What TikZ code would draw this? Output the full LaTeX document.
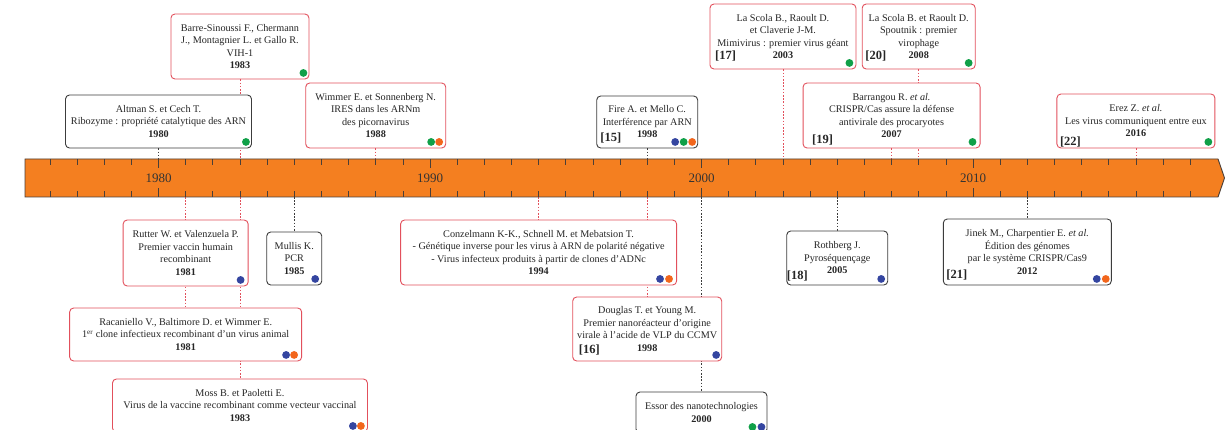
\documentclass[tikz,border=0pt]{standalone}
\usepackage{fontspec}
\setmainfont{Liberation Serif}
\usepackage{xcolor}
\usepackage{tikz}
\usetikzlibrary{positioning,backgrounds}
\definecolor{bandcol}{HTML}{F47F20}
\definecolor{bandline}{HTML}{4A3F38}
\definecolor{redc}{HTML}{E2505C}
\definecolor{blkc}{HTML}{3C3C3C}
\definecolor{dgreen}{HTML}{10A048}
\definecolor{dblue}{HTML}{3445A0}
\definecolor{dorange}{HTML}{F2661C}
\newcommand{\yrx}[1]{158.5+(#1-1980)*27.15}
\newcommand{\catdot}[3]{\fill[#1] ([shift={(#3,-6.5)}]#2.south east) circle (3.9);}

\begin{document}
\begin{tikzpicture}[x=1pt,y=-1pt,font=\fontsize{10.2}{12.5}\selectfont,
  evr/.style={draw=redc,fill=white,rounded corners=4pt,line width=0.9pt,
              inner sep=0pt,align=center,text=black!85},
  evk/.style={evr,draw=blkc},
  lnr/.style={redc,dash pattern=on 1.6pt off 1.6pt,line width=0.8pt},
  lnk/.style={lnr,blkc},
  refno/.style={font=\fontsize{12.5}{14}\selectfont\bfseries,inner sep=0pt,text=black!85},
]
\useasboundingbox (0,0) rectangle (1225,430);
\clip (0,0) rectangle (1225,430);

% time band
\coordinate (axtop) at (0,159);
\coordinate (axbot) at (0,197);
\draw[bandline,fill=bandcol,line width=0.9pt]
  (25,159) -- (1218,159) -- (1224.5,178) -- (1218,197) -- (25,197) -- cycle;
\foreach \yr in {1976,...,2018}{
  \pgfmathsetmacro{\tl}{mod(\yr,10)==0 ? 9 : 6}
  \draw[bandline,line width=0.7pt] ({\yrx{\yr}},159) -- ++(0,\tl);
  \draw[bandline,line width=0.7pt] ({\yrx{\yr}},197) -- ++(0,-\tl);
}
\foreach \yr in {1980,1990,2000,2010}
  \node[font=\fontsize{13}{14}\selectfont,text=black!80] (lab\yr) at ({\yrx{\yr}},178.5) {\yr};

% events above the band
\node[evr,minimum width=138,minimum height=65] (barre) at ({\yrx{1983}},46.5)
  {Barre-Sinoussi F., Chermann\\J., Montagnier L. et Gallo R.\\VIH-1\\\textbf{1983}};
\node[evk,minimum width=186,minimum height=53] (altman) at ({\yrx{1980}},121.5)
  {Altman S. et Cech T.\\Ribozyme : propriété catalytique des ARN\\\textbf{1980}};
\node[evr,minimum width=140,minimum height=65] (wimmer) at ({\yrx{1988}},115.5)
  {Wimmer E. et Sonnenberg N.\\IRES dans les ARNm\\des picornavirus\\\textbf{1988}};
\node[evk,minimum width=101,minimum height=52] (fire) at ({\yrx{1998}},122)
  {Fire A. et Mello C.\\Interférence par ARN\\\textbf{1998}};
\node[evr,minimum width=146,minimum height=65] (mimi) at ({\yrx{2003}},36.5)
  {La Scola B., Raoult D.\\et Claverie J-M.\\Mimivirus : premier virus géant\\\textbf{2003}};
\node[evr,minimum width=113,minimum height=65] (spout) at ({\yrx{2008}},36.5)
  {La Scola B. et Raoult D.\\Spoutnik : premier\\virophage\\\textbf{2008}};
\node[evr,minimum width=177,minimum height=65] (barrang) at ({\yrx{2007}},115.5)
  {Barrangou R. \textit{et al.}\\CRISPR/Cas assure la défense\\antivirale des procaryotes\\\textbf{2007}};
\node[evr,minimum width=158,minimum height=54] (erez) at ({\yrx{2016}},121)
  {Erez Z. \textit{et al.}\\Les virus communiquent entre eux\\\textbf{2016}};

% events below the band
\node[evr,minimum width=125,minimum height=66] (rutter) at ({\yrx{1981}},253)
  {Rutter W. et Valenzuela P.\\Premier vaccin humain\\recombinant\\\textbf{1981}};
\node[evr,minimum width=232,minimum height=53] (racan) at ({\yrx{1981}},334.5)
  {Racaniello V., Baltimore D. et Wimmer E.\\1\textsuperscript{er} clone infectieux recombinant d’un virus animal\\\textbf{1981}};
\node[evr,minimum width=255,minimum height=53] (moss) at ({\yrx{1983}},405.5)
  {Moss B. et Paoletti E.\\Virus de la vaccine recombinant comme vecteur vaccinal\\\textbf{1983}};
\node[evk,minimum width=55,minimum height=53] (mullis) at ({\yrx{1985}},258.5)
  {Mullis K.\\PCR\\\textbf{1985}};
\node[evr,minimum width=276,minimum height=65] (conz) at ({\yrx{1994}},252.5)
  {Conzelmann K-K., Schnell M. et Mebatsion T.\\- Génétique inverse pour les virus à ARN de polarité négative\\- Virus infecteux produits à partir de clones d’ADNc\\\textbf{1994}};
\node[evr,minimum width=149,minimum height=64] (douglas) at ({\yrx{1998}},329)
  {Douglas T. et Young M.\\Premier nanoréacteur d’origine\\virale à l’acide de VLP du CCMV\\\textbf{1998}};
\node[evk,minimum width=131,minimum height=41] (essor) at ({\yrx{2000}},412.5)
  {Essor des nanotechnologies\\\textbf{2000}};
\node[evk,minimum width=101,minimum height=54] (roth) at ({\yrx{2005}},258)
  {Rothberg J.\\Pyroséquençage\\\textbf{2005}};
\node[evk,minimum width=168,minimum height=66] (jinek) at ({\yrx{2012}},252)
  {Jinek M., Charpentier E. \textit{et al.}\\Édition des génomes\\par le système CRISPR/Cas9\\\textbf{2012}};

% reference numbers
\node[refno] (r15) at ([shift={(14.5,-10)}]fire.south west) {[15]};
\node[refno] (r16) at ([shift={(17,-11)}]douglas.south west) {[16]};
\node[refno] (r17) at ([shift={(16,-13)}]mimi.south west) {[17]};
\node[refno] (r18) at ([shift={(11,-9)}]roth.south west) {[18]};
\node[refno] (r19) at ([shift={(20,-8)}]barrang.south west) {[19]};
\node[refno] (r20) at ([shift={(14,-13)}]spout.south west) {[20]};
\node[refno] (r21) at ([shift={(14,-10)}]jinek.south west) {[21]};
\node[refno] (r22) at ([shift={(14,-6)}]erez.south west) {[22]};

% category dots
\catdot{dgreen}{barre}{-6}
\catdot{dgreen}{altman}{-6}
\catdot{dgreen}{wimmer}{-15} \catdot{dorange}{wimmer}{-7}
\catdot{dblue}{fire}{-23} \catdot{dgreen}{fire}{-14.5} \catdot{dorange}{fire}{-6}
\catdot{dgreen}{mimi}{-7}
\catdot{dgreen}{spout}{-7}
\catdot{dgreen}{barrang}{-8}
\catdot{dgreen}{erez}{-7}
\catdot{dblue}{rutter}{-8}
\catdot{dblue}{racan}{-16} \catdot{dorange}{racan}{-8}
\catdot{dblue}{moss}{-15} \catdot{dorange}{moss}{-7}
\catdot{dblue}{mullis}{-7}
\catdot{dblue}{conz}{-17} \catdot{dorange}{conz}{-8}
\catdot{dblue}{douglas}{-6}
\catdot{dgreen}{essor}{-15} \catdot{dblue}{essor}{-6}
\catdot{dblue}{roth}{-7}
\catdot{dblue}{jinek}{-15} \catdot{dorange}{jinek}{-6}

% dotted leaders to the band, behind the boxes
\begin{pgfonlayer}{background}
\draw[lnr] (barre.south) -- (barre.south |- axtop);
\draw[lnk] (altman.south) -- (altman.south |- axtop);
\draw[lnr] (wimmer.south) -- (wimmer.south |- axtop);
\draw[lnk] (fire.south) -- (fire.south |- axtop);
\draw[lnr] (mimi.south) -- (mimi.south |- axtop);
\draw[lnr] (spout.south) -- (spout.south |- axtop);
\draw[lnr] (barrang.south) -- (barrang.south |- axtop);
\draw[lnr] (erez.south) -- (erez.south |- axtop);
\draw[lnr] (racan.north |- axbot) -- (racan.north);
\draw[lnr] (moss.north |- axbot) -- (moss.north);
\draw[lnk] (mullis.north |- axbot) -- (mullis.north);
\draw[lnr] (conz.north |- axbot) -- (conz.north);
\draw[lnr] (douglas.north |- axbot) -- (douglas.north);
\draw[lnk] (essor.north |- axbot) -- (essor.north);
\draw[lnk] (roth.north |- axbot) -- (roth.north);
\draw[lnk] (jinek.north |- axbot) -- (jinek.north);
\end{pgfonlayer}
\end{tikzpicture}
\end{document}
